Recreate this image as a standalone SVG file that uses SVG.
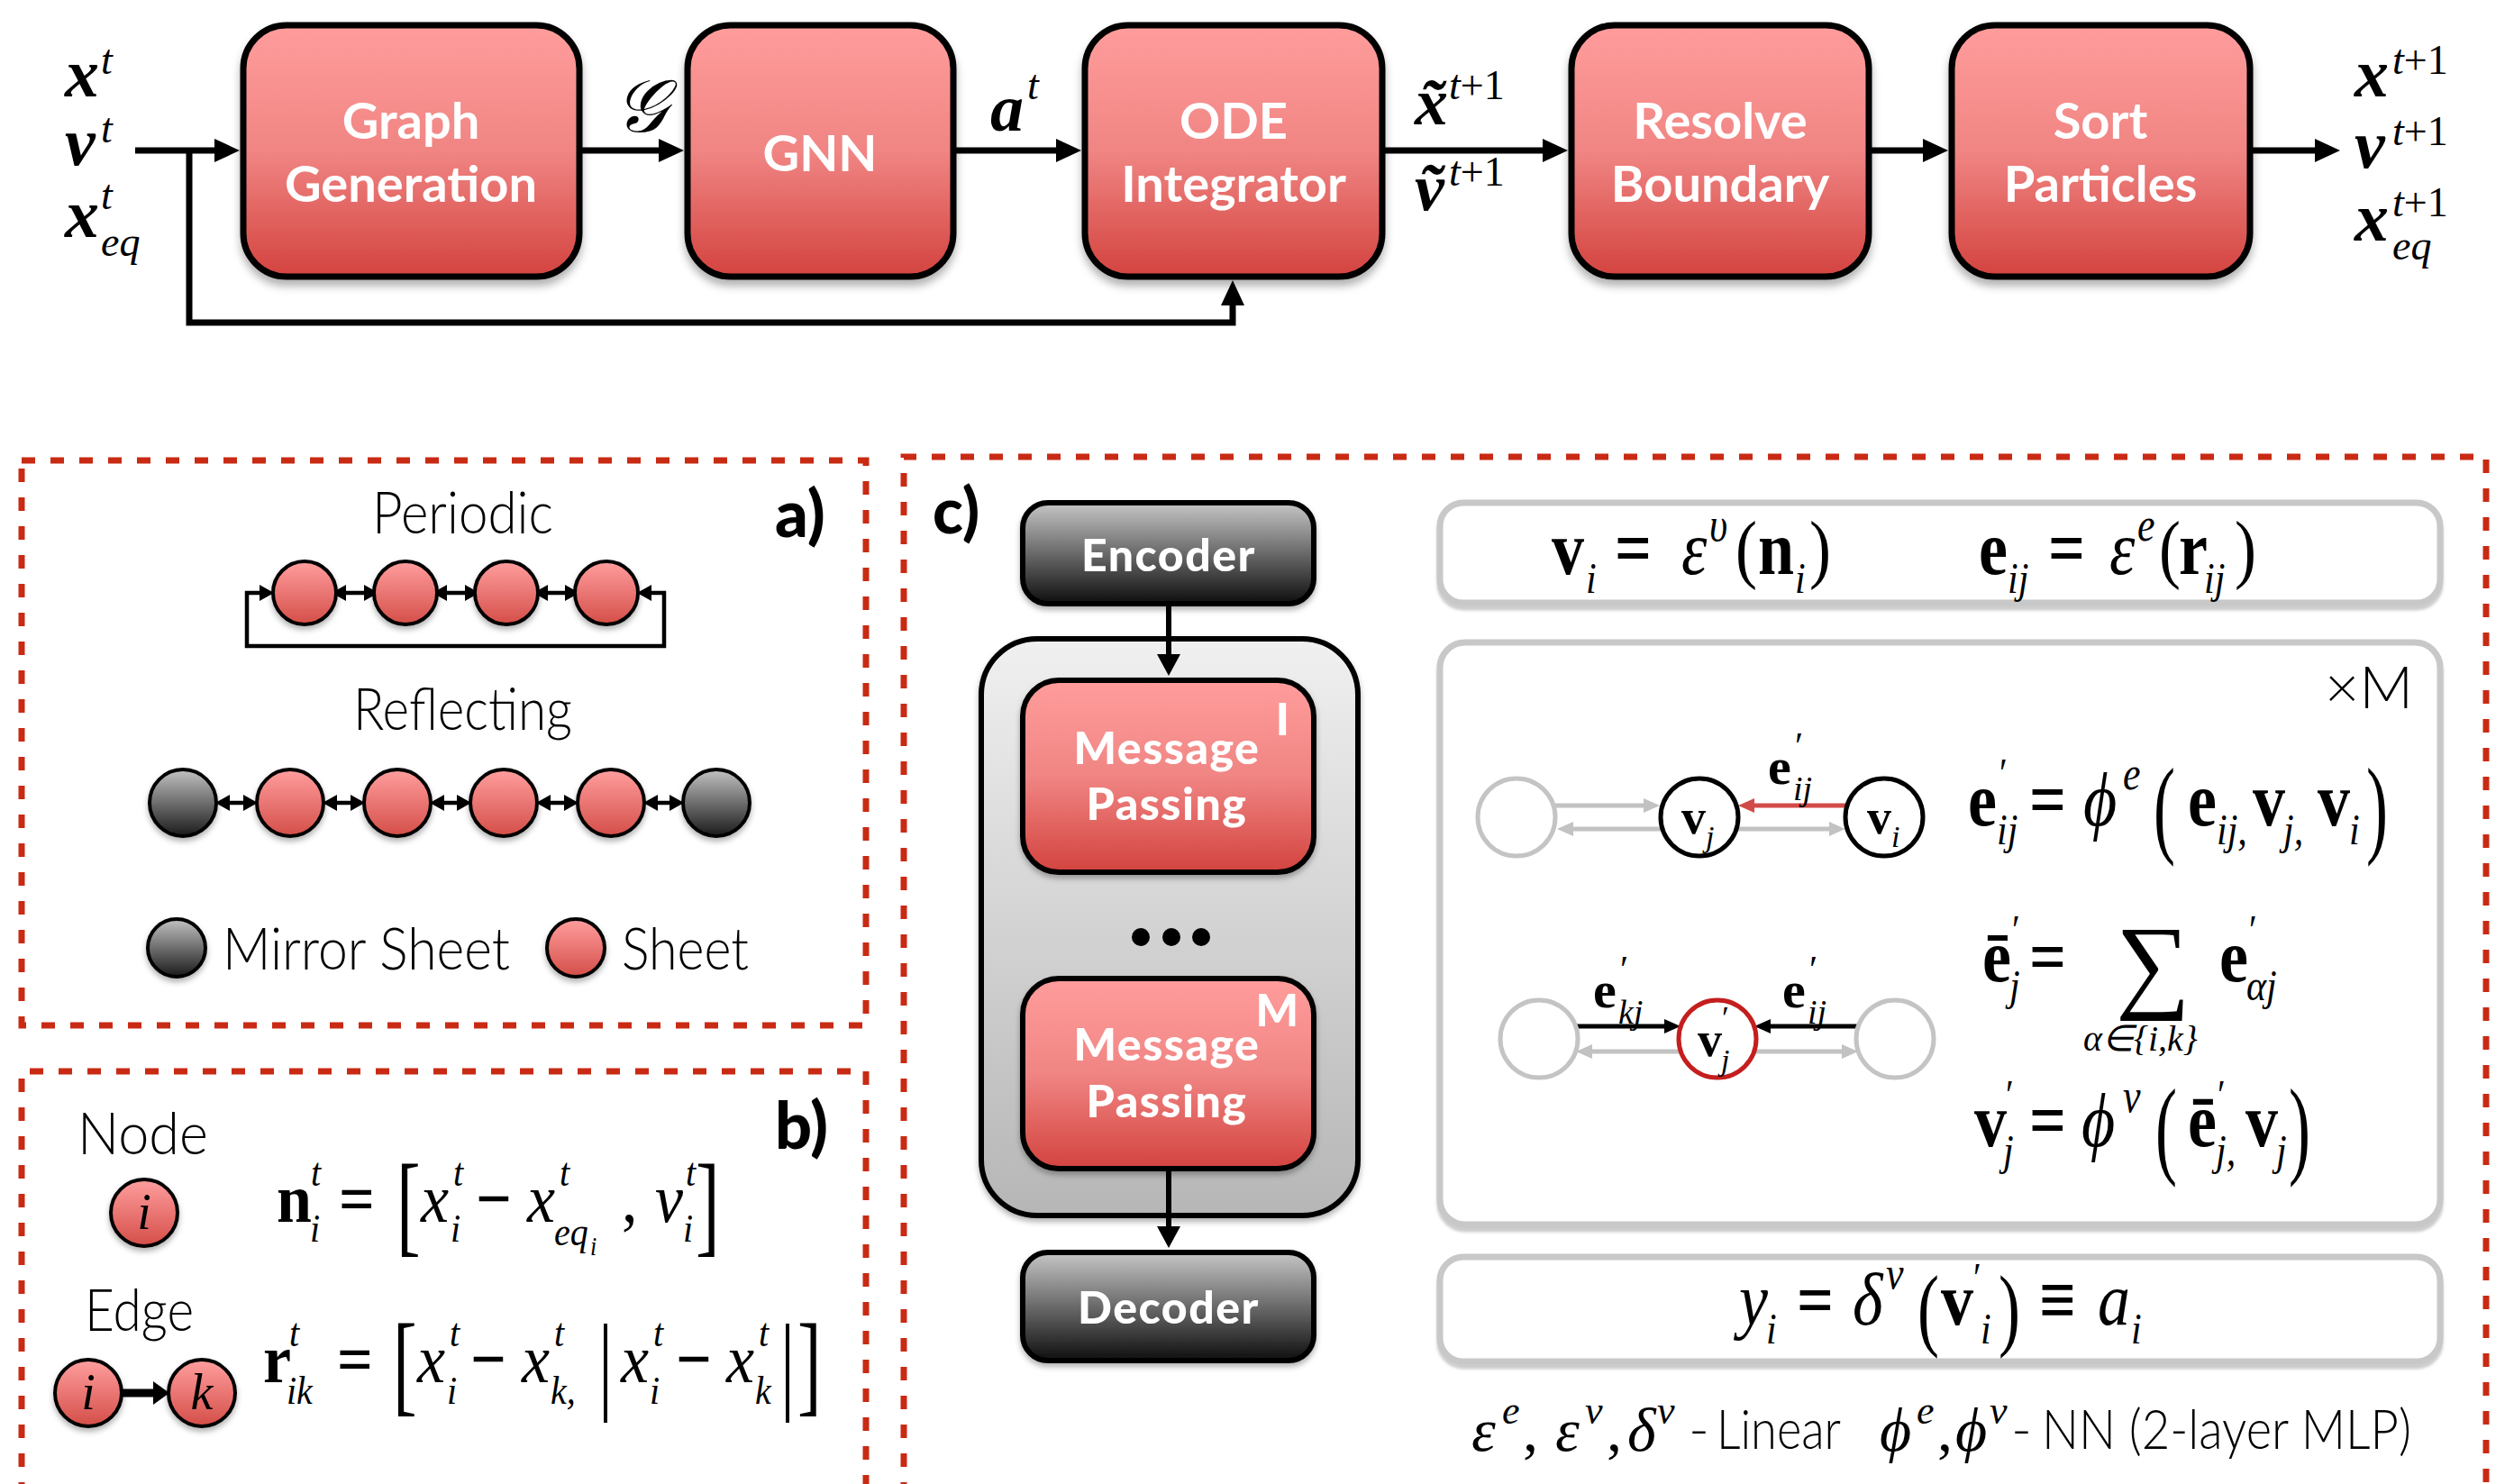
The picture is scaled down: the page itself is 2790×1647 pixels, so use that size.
<svg xmlns="http://www.w3.org/2000/svg" width="2790" height="1647" viewBox="0 0 2790 1647">
<defs>
  <linearGradient id="gRed" x1="0" y1="0" x2="0" y2="1">
    <stop offset="0" stop-color="#FF9D9C"/>
    <stop offset="0.5" stop-color="#F08583"/>
    <stop offset="1" stop-color="#D3433F"/>
  </linearGradient>
  <linearGradient id="gGrey" x1="0" y1="0" x2="0" y2="1">
    <stop offset="0" stop-color="#C6C6C6"/>
    <stop offset="1" stop-color="#0E0E0E"/>
  </linearGradient>
  <linearGradient id="gCont" x1="0" y1="0" x2="0" y2="1">
    <stop offset="0" stop-color="#F0F0F0"/>
    <stop offset="1" stop-color="#B6B6B6"/>
  </linearGradient>
  <linearGradient id="gBall" x1="0" y1="0" x2="0" y2="1">
    <stop offset="0" stop-color="#FF9E9E"/>
    <stop offset="1" stop-color="#D44E48"/>
  </linearGradient>
  <linearGradient id="gMirror" x1="0" y1="0" x2="0" y2="1">
    <stop offset="0" stop-color="#C2C2C2"/>
    <stop offset="1" stop-color="#1A1A1A"/>
  </linearGradient>
  <filter id="sh" x="-10%" y="-10%" width="120%" height="130%">
    <feDropShadow dx="0" dy="7" stdDeviation="5" flood-color="#000" flood-opacity="0.3"/>
  </filter>
  <filter id="shs" x="-20%" y="-20%" width="140%" height="150%">
    <feDropShadow dx="0" dy="4" stdDeviation="3" flood-color="#000" flood-opacity="0.3"/>
  </filter>
  <filter id="shp" x="-5%" y="-10%" width="110%" height="130%">
    <feDropShadow dx="0" dy="5" stdDeviation="1.5" flood-color="#9A9A9A" flood-opacity="0.5"/>
  </filter>
  <!-- large pipeline arrowhead -->
  <marker id="ah" viewBox="0 0 28 26" refX="14" refY="13" markerWidth="28" markerHeight="26" orient="auto" markerUnits="userSpaceOnUse">
    <path d="M0,0 L28,13 L0,26 z" fill="#000"/>
  </marker>
  <!-- vertical arrowhead in the GNN stack -->
  <marker id="am" viewBox="0 0 24 26" refX="12" refY="13" markerWidth="24" markerHeight="26" orient="auto" markerUnits="userSpaceOnUse">
    <path d="M0,0 L24,13 L0,26 z" fill="#000"/>
  </marker>
  <!-- small double-headed arrows between sheets -->
  <marker id="as" viewBox="0 0 16 18" refX="11" refY="9" markerWidth="16" markerHeight="18" orient="auto-start-reverse" markerUnits="userSpaceOnUse">
    <path d="M0,0 L16,9 L0,18 z" fill="#000"/>
  </marker>
  <!-- graph edge arrowheads -->
  <marker id="ag" viewBox="0 0 18 16" refX="9" refY="8" markerWidth="18" markerHeight="16" orient="auto" markerUnits="userSpaceOnUse">
    <path d="M0,0 L18,8 L0,16 z" fill="#C2C2C2"/>
  </marker>
  <marker id="ar" viewBox="0 0 18 16" refX="9" refY="8" markerWidth="18" markerHeight="16" orient="auto" markerUnits="userSpaceOnUse">
    <path d="M0,0 L18,8 L0,16 z" fill="#D24A48"/>
  </marker>
  <marker id="ab" viewBox="0 0 18 16" refX="9" refY="8" markerWidth="18" markerHeight="16" orient="auto" markerUnits="userSpaceOnUse">
    <path d="M0,0 L18,8 L0,16 z" fill="#000"/>
  </marker>
  <style>
    .rbox { fill: url(#gRed); stroke: #000; stroke-width: 7; }
    .gbox { fill: url(#gGrey); stroke: #000; stroke-width: 6; }
    .rbox6 { fill: url(#gRed); stroke: #000; stroke-width: 6; }
    .bx { font-family: Lato, "Open Sans", sans-serif; font-weight: 700; font-size: 56px; fill: #fff; text-anchor: middle; }
    .bk { font-family: Lato, "Open Sans", sans-serif; font-weight: 900; font-size: 50px; fill: #fff; text-anchor: middle; letter-spacing: 1.5px; }
    .lt { font-family: Lato, "Open Sans", sans-serif; font-weight: 300; fill: #000; }
    .lb { font-family: Lato, "Open Sans", sans-serif; font-weight: 900; fill: #000; }
    .m { font-family: "Liberation Serif", "Times New Roman", serif; fill: #000; }
    .i { font-style: italic; }
    .b { font-weight: bold; }
    .mx { font-family: "Liberation Serif", "Times New Roman", serif; font-style: italic; font-weight: bold; fill: #000; }
    .dash { fill: none; stroke: #C92A14; stroke-width: 7; stroke-dasharray: 15 17; }
    .conn { fill: none; stroke: #000; stroke-width: 7; }
    .dbl { fill: none; stroke: #000; stroke-width: 4.5; }
    .ball { fill: url(#gBall); stroke: #000; stroke-width: 4; }
    .mirror { fill: url(#gMirror); stroke: #000; stroke-width: 4; }
    .panel { fill: #fff; stroke: #C8C8C8; stroke-width: 7; }
    .gn { fill: #fff; stroke: #C4C4C4; stroke-width: 5; }
    .kn { fill: #fff; stroke: #000; stroke-width: 5; }
    .rn { fill: #fff; stroke: #C41E1E; stroke-width: 5; }
    .eg { fill: none; stroke: #C2C2C2; stroke-width: 5; }
    .er { fill: none; stroke: #D24A48; stroke-width: 5; }
    .ek { fill: none; stroke: #000; stroke-width: 5; }
  </style>
</defs>

<rect width="2790" height="1647" fill="#fff"/>

<!-- ===== pipeline ===== -->
<g id="inputs">
  <text class="mx" x="72" y="107" font-size="76">x</text>
  <text class="m i" x="112" y="82" font-size="46">t</text>
  <text class="mx" x="72" y="183" font-size="76">v</text>
  <text class="m i" x="112" y="158" font-size="46">t</text>
  <text class="mx" x="72" y="263" font-size="76">x</text>
  <text class="m i" x="112" y="232" font-size="46">t</text>
  <text class="m i" x="112" y="284" font-size="46">eq</text>
</g>

<g id="graph-generation">
  <rect class="rbox" x="270" y="28" width="373" height="279" rx="48" filter="url(#sh)"/>
  <text class="bx" x="456" y="154">Graph</text>
  <text class="bx" x="456" y="224">Generation</text>
</g>
<g id="gnn">
  <rect class="rbox" x="763" y="28" width="295" height="279" rx="48" filter="url(#sh)"/>
  <text class="bx" x="910" y="190">GNN</text>
</g>
<g id="ode-integrator">
  <rect class="rbox" x="1204" y="28" width="330" height="279" rx="48" filter="url(#sh)"/>
  <text class="bx" x="1369" y="154">ODE</text>
  <text class="bx" x="1369" y="224">Integrator</text>
</g>
<g id="resolve-boundary">
  <rect class="rbox" x="1744" y="28" width="330" height="279" rx="48" filter="url(#sh)"/>
  <text class="bx" x="1909" y="154">Resolve</text>
  <text class="bx" x="1909" y="224">Boundary</text>
</g>
<g id="sort-particles">
  <rect class="rbox" x="2166" y="28" width="331" height="279" rx="48" filter="url(#sh)"/>
  <text class="bx" x="2331" y="154">Sort</text>
  <text class="bx" x="2331" y="224">Particles</text>
</g>

<g id="outputs">
  <text class="mx" x="2613" y="107" font-size="76">x</text>
  <text class="m" x="2655" y="82" font-size="46"><tspan class="i">t</tspan>+1</text>
  <text class="mx" x="2613" y="186" font-size="76">v</text>
  <text class="m" x="2655" y="161" font-size="46"><tspan class="i">t</tspan>+1</text>
  <text class="mx" x="2613" y="267" font-size="76">x</text>
  <text class="m" x="2655" y="240" font-size="46"><tspan class="i">t</tspan>+1</text>
  <text class="m i" x="2655" y="288" font-size="46">eq</text>
</g>

<g id="connectors">
  <path class="conn" d="M150,167 H252" marker-end="url(#ah)"/>
  <path class="conn" d="M646,167 H745" marker-end="url(#ah)"/>
  <path class="conn" d="M1061,167 H1186" marker-end="url(#ah)"/>
  <path class="conn" d="M1537,167 H1726" marker-end="url(#ah)"/>
  <path class="conn" d="M2077,167 H2148" marker-end="url(#ah)"/>
  <path class="conn" d="M2500,167 H2583" marker-end="url(#ah)"/>
  <path class="conn" d="M210,167 V358 H1368 V325" stroke-linejoin="miter" marker-end="url(#ah)"/>
  <!-- edge labels -->
  <text class="m i" x="682" y="146" font-size="82">𝒢</text>
  <text class="mx" x="1099" y="145" font-size="74">a</text>
  <text class="m i" x="1140" y="110" font-size="46">t</text>
  <text class="mx" x="1570" y="138" font-size="74">x̃</text>
  <text class="m" x="1608" y="110" font-size="46"><tspan class="i">t</tspan>+1</text>
  <text class="mx" x="1570" y="233" font-size="74">ṽ</text>
  <text class="m" x="1608" y="206" font-size="46"><tspan class="i">t</tspan>+1</text>
</g>

<!-- ===== a) boundary conditions ===== -->
<g id="panel-a">
  <rect class="dash" x="24" y="511" width="937" height="627"/>
  <text class="lb" x="860" y="596" font-size="72">a)</text>
  <text class="lt" x="413" y="592" font-size="66" textLength="201" lengthAdjust="spacingAndGlyphs">Periodic</text>
  <path class="dbl" d="M373,658 H415" marker-start="url(#as)" marker-end="url(#as)"/>
  <path class="dbl" d="M485,658 H527" marker-start="url(#as)" marker-end="url(#as)"/>
  <path class="dbl" d="M597,658 H638" marker-start="url(#as)" marker-end="url(#as)"/>
  <path class="dbl" d="M299,658 H274 V717 H737 V658 H712" stroke-width="3.5" marker-start="url(#as)" marker-end="url(#as)"/>
  <g filter="url(#shs)">
    <circle class="ball" cx="338" cy="658" r="35"/>
    <circle class="ball" cx="450" cy="658" r="35"/>
    <circle class="ball" cx="562" cy="658" r="35"/>
    <circle class="ball" cx="673" cy="658" r="35"/>
  </g>
  <text class="lt" x="392" y="810" font-size="66" textLength="243" lengthAdjust="spacingAndGlyphs">Reflecting</text>
  <path class="dbl" d="M244,891 H281" marker-start="url(#as)" marker-end="url(#as)"/>
  <path class="dbl" d="M363,891 H400" marker-start="url(#as)" marker-end="url(#as)"/>
  <path class="dbl" d="M482,891 H518" marker-start="url(#as)" marker-end="url(#as)"/>
  <path class="dbl" d="M600,891 H637" marker-start="url(#as)" marker-end="url(#as)"/>
  <path class="dbl" d="M719,891 H754" marker-start="url(#as)" marker-end="url(#as)"/>
  <g filter="url(#shs)">
    <circle class="mirror" cx="203" cy="891" r="37"/>
    <circle class="ball" cx="322" cy="891" r="37"/>
    <circle class="ball" cx="441" cy="891" r="37"/>
    <circle class="ball" cx="559" cy="891" r="37"/>
    <circle class="ball" cx="678" cy="891" r="37"/>
    <circle class="mirror" cx="795" cy="891" r="37"/>
  </g>
  <circle class="mirror" cx="196" cy="1052" r="32" filter="url(#shs)"/>
  <text class="lt" x="247" y="1076" font-size="66" textLength="319" lengthAdjust="spacingAndGlyphs">Mirror Sheet</text>
  <circle class="ball" cx="639" cy="1052" r="32" filter="url(#shs)"/>
  <text class="lt" x="690" y="1076" font-size="66" textLength="141" lengthAdjust="spacingAndGlyphs">Sheet</text>
</g>

<!-- ===== b) node and edge features ===== -->
<g id="panel-b">
  <path class="dash" d="M24,1660 V1189 H961 V1660"/>
  <text class="lb" x="860" y="1275" font-size="72">b)</text>
  <text class="lt" x="86" y="1281" font-size="66" textLength="145" lengthAdjust="spacingAndGlyphs">Node</text>
  <circle class="ball" cx="160" cy="1346" r="37" filter="url(#shs)"/>
  <text class="m i" x="160" y="1364" font-size="56" text-anchor="middle">i</text>
  <text class="lt" x="94" y="1477" font-size="66" textLength="121" lengthAdjust="spacingAndGlyphs">Edge</text>
  <path d="M136,1546 H172" stroke="#000" stroke-width="9" fill="none"/>
  <path d="M170,1533 L188,1546 L170,1559 z" fill="#000"/>
  <circle class="ball" cx="98" cy="1546" r="37" filter="url(#shs)"/>
  <circle class="ball" cx="224" cy="1546" r="37" filter="url(#shs)"/>
  <text class="m i" x="98" y="1564" font-size="56" text-anchor="middle">i</text>
  <text class="m i" x="224" y="1564" font-size="56" text-anchor="middle">k</text>

  <!-- n_i^t = [x_i^t - x_eq_i^t , v_i^t] -->
  <g transform="translate(0,1356) scale(1,1.1) translate(0,-1356)">
    <text class="m b" x="307" y="1356" font-size="70">n</text>
    <text class="m i" x="345" y="1320" font-size="40">t</text>
    <text class="m i" x="344" y="1376" font-size="40">i</text>
    <text class="m b" x="376" y="1356" font-size="70">=</text>
    <text class="m" transform="translate(440,1376) scale(1,1.42)" font-size="80">[</text>
    <text class="m i" x="467" y="1356" font-size="70">x</text>
    <text class="m i" x="503" y="1320" font-size="40">t</text>
    <text class="m i" x="500" y="1376" font-size="40">i</text>
    <text class="m b" x="528" y="1356" font-size="70">−</text>
    <text class="m i" x="585" y="1356" font-size="70">x</text>
    <text class="m i" x="621" y="1320" font-size="40">t</text>
    <text class="m i" x="615" y="1380" font-size="40">eq</text>
    <text class="m i" x="655" y="1390" font-size="26">i</text>
    <text class="m" x="690" y="1356" font-size="70">,</text>
    <text class="m i" x="727" y="1356" font-size="70">v</text>
    <text class="m i" x="761" y="1320" font-size="40">t</text>
    <text class="m i" x="758" y="1376" font-size="40">i</text>
    <text class="m" transform="translate(772,1376) scale(1,1.42)" font-size="80">]</text>
  </g>

  <!-- r_ik^t = [x_i^t - x_k^t, |x_i^t - x_k^t|] -->
  <g transform="translate(0,1534) scale(1,1.1) translate(0,-1534)">
    <text class="m b" x="292" y="1534" font-size="70">r</text>
    <text class="m i" x="321" y="1498" font-size="40">t</text>
    <text class="m i" x="318" y="1556" font-size="40">ik</text>
    <text class="m b" x="374" y="1534" font-size="70">=</text>
    <text class="m" transform="translate(436,1553) scale(1,1.42)" font-size="80">[</text>
    <text class="m i" x="463" y="1534" font-size="70">x</text>
    <text class="m i" x="499" y="1498" font-size="40">t</text>
    <text class="m i" x="496" y="1556" font-size="40">i</text>
    <text class="m b" x="522" y="1534" font-size="70">−</text>
    <text class="m i" x="579" y="1534" font-size="70">x</text>
    <text class="m i" x="615" y="1498" font-size="40">t</text>
    <text class="m i" x="611" y="1556" font-size="40">k,</text>
    <text class="m" transform="translate(664,1551) scale(1,1.38)" font-size="80">|</text>
    <text class="m i" x="689" y="1534" font-size="70">x</text>
    <text class="m i" x="725" y="1498" font-size="40">t</text>
    <text class="m i" x="721" y="1556" font-size="40">i</text>
    <text class="m b" x="750" y="1534" font-size="70">−</text>
    <text class="m i" x="806" y="1534" font-size="70">x</text>
    <text class="m i" x="842" y="1498" font-size="40">t</text>
    <text class="m i" x="838" y="1556" font-size="40">k</text>
    <text class="m" transform="translate(866,1551) scale(1,1.38)" font-size="80">|</text>
    <text class="m" transform="translate(885,1553) scale(1,1.42)" font-size="80">]</text>
  </g>
</g>

<!-- ===== c) GNN architecture ===== -->
<g id="panel-c">
  <path class="dash" d="M1003,1660 V507 H2759 V1660"/>
  <text class="lb" x="1035" y="592" font-size="70">c)</text>
</g>

<g id="mp-stack">
  <rect x="1089" y="709" width="418" height="640" rx="62" fill="url(#gCont)" stroke="#000" stroke-width="6" filter="url(#shs)"/>
  <circle cx="1266" cy="1040" r="10"/>
  <circle cx="1300" cy="1040" r="10"/>
  <circle cx="1333" cy="1040" r="10"/>
</g>
<g id="encoder">
  <rect class="gbox" x="1135" y="558" width="323" height="112" rx="28" filter="url(#shs)"/>
  <text class="bk" x="1297" y="634">Encoder</text>
</g>
<g id="message-passing-1">
  <rect class="rbox6" x="1135" y="755" width="323" height="213" rx="40" filter="url(#shs)"/>
  <text class="bk" x="1295" y="848">Message</text>
  <text class="bk" x="1295" y="910">Passing</text>
  <text class="bk" x="1424" y="816" font-size="42" letter-spacing="0">I</text>
</g>
<g id="message-passing-m">
  <rect class="rbox6" x="1135" y="1086" width="323" height="211" rx="40" filter="url(#shs)"/>
  <text class="bk" x="1295" y="1177">Message</text>
  <text class="bk" x="1295" y="1240">Passing</text>
  <text class="bk" x="1418" y="1139" font-size="42" letter-spacing="0">M</text>
</g>
<g id="decoder">
  <rect class="gbox" x="1135" y="1390" width="323" height="120" rx="28" filter="url(#shs)"/>
  <text class="bk" x="1297" y="1469">Decoder</text>
</g>
<g id="stack-connectors">
  <path d="M1297,670 V738" stroke="#000" stroke-width="6" fill="none" marker-end="url(#am)"/>
  <path d="M1297,1297 V1373" stroke="#000" stroke-width="6" fill="none" marker-end="url(#am)"/>
</g>

<!-- encoder equations -->
<g id="encoder-eq">
  <rect class="panel" x="1598" y="558" width="1110" height="111" rx="26" filter="url(#shp)"/>
  <g transform="translate(0,637) scale(1,1.18) translate(0,-637)">
    <text class="m b" x="1722" y="637" font-size="72">v</text>
    <text class="m i" x="1760" y="655" font-size="42">i</text>
    <text class="m b" x="1792" y="637" font-size="72">=</text>
    <text class="m i" x="1866" y="637" font-size="72">ε</text>
    <text class="m i" x="1897" y="606" font-size="44">υ</text>
    <text class="m" x="1926" y="637" font-size="72">(</text>
    <text class="m b" x="1951" y="637" font-size="72">n</text>
    <text class="m i" x="1992" y="655" font-size="42">i</text>
    <text class="m" x="2008" y="637" font-size="72">)</text>
    <text class="m b" x="2196" y="637" font-size="72">e</text>
    <text class="m i" x="2228" y="655" font-size="42">ij</text>
    <text class="m b" x="2273" y="637" font-size="72">=</text>
    <text class="m i" x="2341" y="637" font-size="72">ε</text>
    <text class="m i" x="2372" y="606" font-size="44">e</text>
    <text class="m" x="2396" y="637" font-size="72">(</text>
    <text class="m b" x="2418" y="637" font-size="72">r</text>
    <text class="m i" x="2446" y="655" font-size="42">ij</text>
    <text class="m" x="2480" y="637" font-size="72">)</text>
  </g>
</g>

<!-- message passing step -->
<g id="message-passing-eq">
  <rect class="panel" x="1598" y="713" width="1110" height="646" rx="28" filter="url(#shp)"/>
  <text class="lt" x="2580" y="786" font-size="66" font-weight="400">×M</text>

  <g id="edge-update-graph">
    <path class="eg" d="M1726,894 H1833" marker-end="url(#ag)"/>
    <path class="eg" d="M1843,920 H1737" marker-end="url(#ag)"/>
    <path class="er" d="M2049,894 H1938" marker-end="url(#ar)"/>
    <path class="eg" d="M1929,920 H2039" marker-end="url(#ag)"/>
    <circle class="gn" cx="1683" cy="907" r="43"/>
    <circle class="kn" cx="1886" cy="907" r="43"/>
    <circle class="kn" cx="2091" cy="907" r="43"/>
    <text class="m b" x="1866" y="925" font-size="54">v</text>
    <text class="m i" x="1893" y="940" font-size="34">j</text>
    <text class="m b" x="2072" y="925" font-size="54">v</text>
    <text class="m i" x="2099" y="940" font-size="34">i</text>
    <text class="m b" x="1962" y="870" font-size="58" fill="#CC2222">e</text>
    <text class="m" x="1992" y="842" font-size="42" fill="#CC2222">′</text>
    <text class="m i" x="1990" y="888" font-size="38" fill="#CC2222">ij</text>
  </g>

  <g transform="translate(0,916) scale(1,1.18) translate(0,-916)">
    <text class="m b" x="2184" y="916" font-size="72">e</text>
    <text class="m" x="2219" y="880" font-size="40">′</text>
    <text class="m i" x="2216" y="934" font-size="42">ij</text>
    <text class="m b" x="2252" y="916" font-size="72">=</text>
    <text class="m i" x="2312" y="916" font-size="72">ϕ</text>
    <text class="m i" x="2356" y="882" font-size="44">e</text>
    <text class="m" transform="translate(2390,933) scale(1,1.42)" font-size="72">(</text>
    <text class="m b" x="2428" y="916" font-size="72">e</text>
    <text class="m i" x="2460" y="934" font-size="42">ij,</text>
    <text class="m b" x="2500" y="916" font-size="72">v</text>
    <text class="m i" x="2534" y="934" font-size="42">j,</text>
    <text class="m b" x="2572" y="916" font-size="72">v</text>
    <text class="m i" x="2607" y="934" font-size="42">i</text>
    <text class="m" transform="translate(2626,933) scale(1,1.42)" font-size="72">)</text>
  </g>

  <g id="node-update-graph">
    <path class="ek" d="M1749,1139 H1856" marker-end="url(#ab)"/>
    <path class="ek" d="M2062,1139 H1956" marker-end="url(#ab)"/>
    <path class="eg" d="M1865,1167 H1758" marker-end="url(#ag)"/>
    <path class="eg" d="M1947,1167 H2053" marker-end="url(#ag)"/>
    <circle class="gn" cx="1708" cy="1153" r="43"/>
    <circle class="rn" cx="1906" cy="1153" r="43"/>
    <circle class="gn" cx="2103" cy="1153" r="43"/>
    <text class="m b" x="1884" y="1172" font-size="54" fill="#CC2222">v</text>
    <text class="m" x="1911" y="1142" font-size="36" fill="#CC2222">′</text>
    <text class="m i" x="1910" y="1188" font-size="34" fill="#CC2222">j</text>
    <text class="m b" x="1768" y="1118" font-size="58">e</text>
    <text class="m" x="1798" y="1090" font-size="42">′</text>
    <text class="m i" x="1796" y="1136" font-size="38">kj</text>
    <text class="m b" x="1978" y="1118" font-size="58">e</text>
    <text class="m" x="2008" y="1090" font-size="42">′</text>
    <text class="m i" x="2006" y="1136" font-size="38">ij</text>
  </g>

  <g transform="translate(0,1089) scale(1,1.16) translate(0,-1089)">
    <text class="m b" x="2200" y="1089" font-size="72">ē</text>
    <text class="m" x="2233" y="1054" font-size="40">′</text>
    <text class="m i" x="2230" y="1107" font-size="42">j</text>
    <text class="m b" x="2252" y="1089" font-size="72">=</text>
    <text class="m b" x="2463" y="1089" font-size="72">e</text>
    <text class="m" x="2496" y="1054" font-size="40">′</text>
    <text class="m i" x="2493" y="1107" font-size="42">αj</text>
  </g>
  <text class="m" x="2348" y="1108" font-size="116">∑</text>
  <text class="m i" x="2312" y="1166" font-size="40">α∈{i,k}</text>

  <g transform="translate(0,1272) scale(1,1.18) translate(0,-1272)">
    <text class="m b" x="2191" y="1272" font-size="72">v</text>
    <text class="m" x="2226" y="1237" font-size="40">′</text>
    <text class="m i" x="2223" y="1290" font-size="42">j</text>
    <text class="m b" x="2252" y="1272" font-size="72">=</text>
    <text class="m i" x="2310" y="1272" font-size="72">ϕ</text>
    <text class="m i" x="2356" y="1240" font-size="44">v</text>
    <text class="m" transform="translate(2392,1289) scale(1,1.42)" font-size="72">(</text>
    <text class="m b" x="2428" y="1272" font-size="72">ē</text>
    <text class="m" x="2461" y="1237" font-size="40">′</text>
    <text class="m i" x="2459" y="1290" font-size="42">j,</text>
    <text class="m b" x="2492" y="1272" font-size="72">v</text>
    <text class="m i" x="2526" y="1290" font-size="42">j</text>
    <text class="m" transform="translate(2540,1289) scale(1,1.42)" font-size="72">)</text>
  </g>
</g>

<!-- decoder equation -->
<g id="decoder-eq">
  <rect class="panel" x="1598" y="1395" width="1110" height="116" rx="26" filter="url(#shp)"/>
  <g transform="translate(0,1470) scale(1,1.14) translate(0,-1470)">
    <text class="m i" x="1930" y="1470" font-size="72">y</text>
    <text class="m i" x="1960" y="1488" font-size="42">i</text>
    <text class="m b" x="1994" y="1470" font-size="72">=</text>
    <text class="m i" x="2056" y="1470" font-size="72">δ</text>
    <text class="m i" x="2093" y="1435" font-size="44">v</text>
    <text class="m" transform="translate(2128,1484) scale(1,1.25)" font-size="72">(</text>
    <text class="m b" x="2154" y="1470" font-size="72">v</text>
    <text class="m" x="2190" y="1438" font-size="40">′</text>
    <text class="m i" x="2198" y="1488" font-size="42">i</text>
    <text class="m" transform="translate(2218,1484) scale(1,1.25)" font-size="72">)</text>
    <text class="m b" x="2263" y="1470" font-size="72">≡</text>
    <text class="m i" x="2328" y="1470" font-size="72">a</text>
    <text class="m i" x="2365" y="1488" font-size="42">i</text>
  </g>
</g>

<!-- legend line -->
<g id="legend">
  <text class="m i" x="1633" y="1610" font-size="68">ε</text>
  <text class="m i" x="1667" y="1580" font-size="44">e</text>
  <text class="m" x="1690" y="1610" font-size="68">,</text>
  <text class="m i" x="1726" y="1610" font-size="68">ε</text>
  <text class="m i" x="1759" y="1580" font-size="44">v</text>
  <text class="m" x="1783" y="1610" font-size="68">,</text>
  <text class="m i" x="1806" y="1610" font-size="68">δ</text>
  <text class="m i" x="1839" y="1580" font-size="44">v</text>
  <text class="lt" x="1874" y="1608" font-size="62">-</text>
  <text class="lt" x="1905" y="1608" font-size="62" textLength="138" lengthAdjust="spacingAndGlyphs">Linear</text>
  <text class="m i" x="2086" y="1610" font-size="68">ϕ</text>
  <text class="m i" x="2127" y="1580" font-size="44">e</text>
  <text class="m" x="2150" y="1610" font-size="68">,</text>
  <text class="m i" x="2170" y="1610" font-size="68">ϕ</text>
  <text class="m i" x="2208" y="1580" font-size="44">v</text>
  <text class="lt" x="2232" y="1608" font-size="62">-</text>
  <text class="lt" x="2266" y="1608" font-size="62" textLength="410" lengthAdjust="spacingAndGlyphs">NN (2-layer MLP)</text>
</g>
</svg>
